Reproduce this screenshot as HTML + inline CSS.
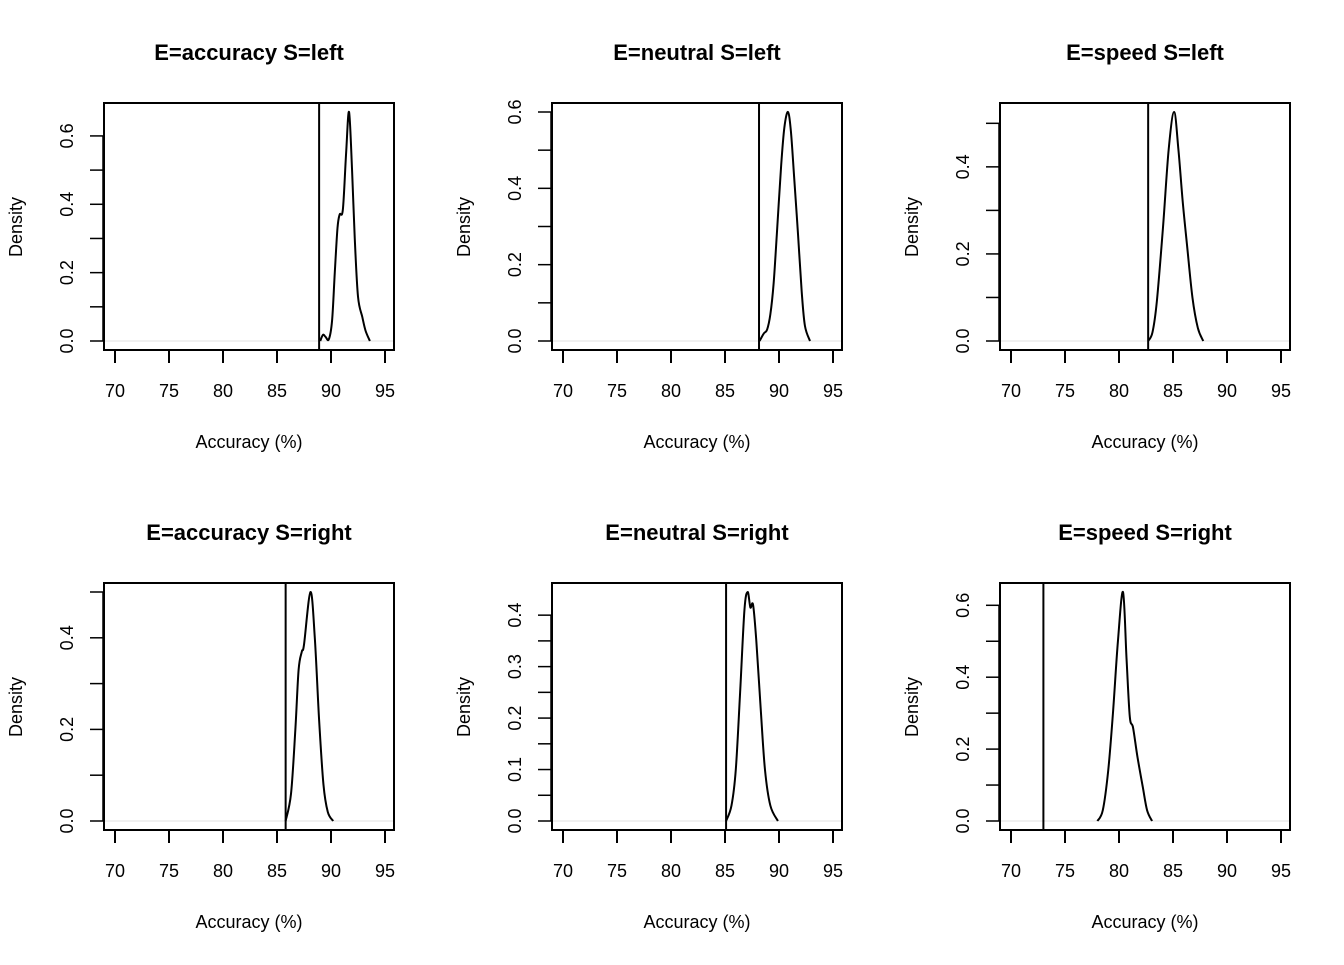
<!DOCTYPE html>
<html><head><meta charset="utf-8"><style>
html,body{margin:0;padding:0;background:#fff}
svg text{font-family:"Liberation Sans",Arial,sans-serif;fill:#000}
</style></head><body>
<svg id="chart" width="1344" height="960" xmlns="http://www.w3.org/2000/svg"></svg>
<script>
const titles=["E=accuracy S=left","E=neutral S=left","E=speed S=left","E=accuracy S=right","E=neutral S=right","E=speed S=right"];
const xs1=[89.0,89.26,89.5,89.8,90.1,90.35,90.6,90.8,91.1,91.4,91.67,91.95,92.2,92.5,92.9,93.2,93.6];
const ds1=[0,0.018,0.012,0.005,0.06,0.2,0.33,0.37,0.385,0.55,0.67,0.5,0.3,0.13,0.07,0.03,0];
const xs2=[88.2,88.6,88.9,89.2,89.5,89.8,90.2,90.5,90.83,91.1,91.4,91.76,92.1,92.4,92.87];
const ds2=[0,0.02,0.03,0.07,0.15,0.28,0.46,0.56,0.6,0.55,0.43,0.28,0.13,0.04,0];
const xs3=[82.7,83.1,83.5,84.07,84.6,85.1,85.5,85.9,86.3,86.8,87.3,87.8];
const ds3=[0,0.02,0.09,0.26,0.44,0.526,0.44,0.32,0.22,0.1,0.03,0];
const xs4=[85.8,86.3,86.7,87.0,87.3,87.5,88.1,88.5,88.9,89.3,89.7,90.2];
const ds4=[0,0.06,0.2,0.33,0.37,0.385,0.5,0.4,0.22,0.08,0.02,0];
const xs5=[85.1,85.6,86.0,86.4,86.8,87.1,87.35,87.6,87.9,88.3,88.7,89.2,89.9];
const ds5=[0,0.03,0.1,0.25,0.41,0.445,0.415,0.42,0.35,0.22,0.1,0.03,0];
const xs6=[78.0,78.5,79.0,79.44,79.9,80.37,80.7,81.0,81.3,81.7,82.2,82.6,83.06];
const ds6=[0,0.03,0.14,0.3,0.5,0.637,0.45,0.29,0.26,0.18,0.095,0.03,0];
const observed=[88.9,88.15,82.7,85.8,85.1,73.0];
const xTicks=[70,75,80,85,90,95];
const yMax=[0.67,0.6,0.526,0.5,0.445,0.637];
const yStep=[0.1,0.1,0.1,0.1,0.05,0.1];
const yLabelStep=[0.2,0.2,0.2,0.2,0.1,0.2];
const allX=[xs1,xs2,xs3,xs4,xs5,xs6], allD=[ds1,ds2,ds3,ds4,ds5,ds6];
const NS="http://www.w3.org/2000/svg";
const svg=document.getElementById("chart");
function mk(tag,attrs,parent){const e=document.createElementNS(NS,tag);for(const k in attrs)e.setAttribute(k,attrs[k]);(parent||svg).appendChild(e);return e;}
function spline(pts){let d="M"+pts[0][0]+","+pts[0][1];for(let i=0;i<pts.length-1;i++){const p0=pts[Math.max(0,i-1)],p1=pts[i],p2=pts[i+1],p3=pts[Math.min(pts.length-1,i+2)];const c1x=p1[0]+(p2[0]-p0[0])/6,c1y=p1[1]+(p2[1]-p0[1])/6,c2x=p2[0]-(p3[0]-p1[0])/6,c2y=p2[1]-(p3[1]-p1[1])/6;d+=" C"+c1x.toFixed(2)+","+c1y.toFixed(2)+" "+c2x.toFixed(2)+","+c2y.toFixed(2)+" "+p2[0].toFixed(2)+","+p2[1].toFixed(2);}return d;}
for(let p=0;p<6;p++){
  const col=p%3,row=Math.floor(p/3);
  const L=104+col*448,T=103+row*480,W=290,H=247,B=T+H;
  const g=mk("g",{});
  
  
  const X=v=>L+11+(v-70)*10.8;
  const y0=B-9,yTop=T+9;
  const Y=v=>y0-v/yMax[p]*(y0-yTop);
  const t=mk("text",{x:L+145,y:T-43,"text-anchor":"middle","font-size":"22","font-weight":"bold"},g);t.textContent=titles[p];
  
  const z=mk("line",{x1:L,x2:L+W,y1:Y(0),y2:Y(0),stroke:"#e0e0e0","stroke-width":1},g);
  
  const pts=allX[p].map((v,i)=>[X(v),Y(allD[p][i])]);
  const c=mk("path",{d:spline(pts),fill:"none",stroke:"#000","stroke-width":2},g);
  
  const o=mk("line",{x1:X(observed[p]),x2:X(observed[p]),y1:T,y2:B,stroke:"#000","stroke-width":2},g);
  
  const box=mk("rect",{x:L,y:T,width:W,height:H,fill:"none",stroke:"#000","stroke-width":2},g);
  
  const xa=mk("g",{},g);
  
  mk("line",{x1:X(70),x2:X(95),y1:B,y2:B,stroke:"#000","stroke-width":2},xa);
  xTicks.forEach(v=>{mk("line",{x1:X(v),x2:X(v),y1:B,y2:B+13,stroke:"#000","stroke-width":2},xa);
    const tl=mk("text",{x:X(v),y:B+47,"text-anchor":"middle","font-size":"18"},xa);tl.textContent=v;
    });
  const xl=mk("text",{x:L+145,y:B+98,"text-anchor":"middle","font-size":"18"},g);xl.textContent="Accuracy (%)";
  
  const ya=mk("g",{},g);
  
  const n=Math.floor(yMax[p]/yStep[p]+1e-6);
  mk("line",{x1:L-1,x2:L-1,y1:Y(0),y2:Y(n*yStep[p]),stroke:"#000","stroke-width":1.5},ya);
  for(let i=0;i<=n;i++){const v=i*yStep[p];mk("line",{x1:L-14,x2:L-1,y1:Y(v),y2:Y(v),stroke:"#000","stroke-width":1.5},ya);
    const r=v/yLabelStep[p];if(Math.abs(r-Math.round(r))<1e-6){const yy=Y(v);const tl=mk("text",{x:L-31,y:yy,"text-anchor":"middle","font-size":"18",transform:"rotate(-90 "+(L-31)+" "+yy+")"},ya);tl.textContent=v.toFixed(1);
    }}
  const yl=mk("text",{x:L-82,y:T+124,"text-anchor":"middle","font-size":"18",transform:"rotate(-90 "+(L-82)+" "+(T+124)+")"},g);yl.textContent="Density";
  
}
</script>
</body></html>
